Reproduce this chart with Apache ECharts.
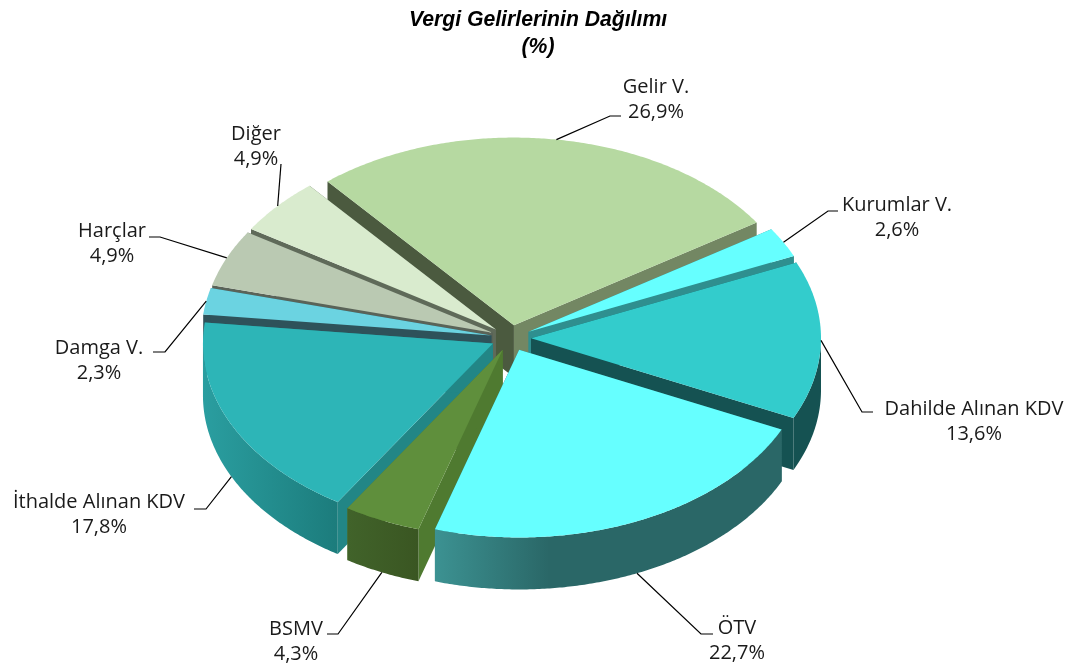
<!DOCTYPE html>
<html>
<head>
<meta charset="utf-8">
<style>
  html, body { margin: 0; padding: 0; background: #fff; }
  #chart { width: 1076px; height: 666px; }
</style>
<script src="https://cdn.jsdelivr.net/npm/echarts@6/dist/echarts.min.js"></script>
</head>
<body>
<div id="chart"></div>
<script>
// data
const categories = ['Gelir V.', 'Kurumlar V.', 'Dahilde Alınan KDV', 'ÖTV', 'BSMV', 'İthalde Alınan KDV', 'Damga V.', 'Harçlar', 'Diğer']
const shares = [26.9, 2.6, 13.6, 22.7, 4.3, 17.8, 2.3, 4.9, 4.9]

// colours per slice
const topColors = ['#b6d9a1', '#66ffff', '#33cccc', '#66ffff', '#5f8f3c', '#2db5b7', '#6bd3e1', '#bac9b2', '#d9ebce']
const startWallColors = ['#4b5a3f', '#2f8f8f', '#155252', '#2a6767', '#4f7a30', '#228686', '#2e525a', '#5a6358', '#5f6a59']
const endWallColors = ['#738763', '#2f8f8f', '#155252', '#2a6767', '#4f7a30', '#228686', '#2e525a', '#5a6358', '#5f6a59']
const rimStops = [
  [[0, '#738763'], [1, '#738763']],
  [[0, '#2f8f8f'], [1, '#2f8f8f']],
  [[0, '#155252'], [1, '#155252']],
  [[0, '#3c9292'], [0.33, '#2a6767'], [1, '#2a6767']],
  [[0, '#41632a'], [1, '#3a5622']],
  [[0, '#2a9ea0'], [1, '#1c7c7c']],
  [[0, '#2e525a'], [1, '#2e525a']],
  [[0, '#5a6358'], [1, '#5a6358']],
  [[0, '#5f6a59'], [1, '#5f6a59']]
]

// label layout: leader elbow, leader end, text centre
const labelLayout = [
  { elbow: [610, 116], end: [621, 116], text: [656, 100] },
  { elbow: [828, 211], end: [838, 211], text: [897, 218] },
  { elbow: [862, 412], end: [873, 412], text: [974, 422] },
  { elbow: [701, 634], end: [713, 634], text: [737, 641] },
  { elbow: [338, 634], end: [327, 634], text: [296, 642] },
  { elbow: [206, 509], end: [194, 509], text: [99, 515] },
  { elbow: [165, 352], end: [153, 352], text: [99, 361] },
  { elbow: [160, 237], end: [149, 237], text: [112, 244] },
  { elbow: [281, 164], end: [281, 164], text: [256, 147] }
]

// pie geometry
const cx = 511
const cy = 338
const rx = 290
const tilt = 0.647
const depth = 52
const explode = 20
const startAngle = -40
const labelFont = 'Open Sans'

const total = shares.reduce((a, b) => a + b, 0)
let acc = 0
const slices = shares.map((v, i) => {
  const from = startAngle + acc / total * 360
  acc += v
  const to = startAngle + acc / total * 360
  return { index: i, from, to, mid: (from + to) / 2 }
})

function project(deg, r, ox, oy) {
  const a = deg * Math.PI / 180
  return [ox + r * Math.sin(a), oy - r * tilt * Math.cos(a)]
}

function arcPoints(from, to, r, ox, oy) {
  const pts = []
  const n = Math.max(2, Math.ceil((to - from) * 2))
  for (let i = 0; i <= n; i++) pts.push(project(from + (to - from) * i / n, r, ox, oy))
  return pts
}

// back slices first, front slices on top
const drawOrder = slices.slice().sort((a, b) => Math.cos(b.mid * Math.PI / 180) - Math.cos(a.mid * Math.PI / 180))

function renderSlice(params) {
  const s = drawOrder[params.dataIndex]
  const i = s.index
  const [ox, oy] = project(s.mid, explode, cx, cy)
  const down = p => [p[0], p[1] + depth]
  const apex = [ox, oy]
  const a = project(s.from, rx, ox, oy)
  const b = project(s.to, rx, ox, oy)
  const children = [
    { type: 'polygon', shape: { points: [apex, a, down(a), down(apex)] }, style: { fill: startWallColors[i] } },
    { type: 'polygon', shape: { points: [apex, b, down(b), down(apex)] }, style: { fill: endWallColors[i] } }
  ]
  // outer wall only where the rim faces the viewer
  for (const shift of [0, 360]) {
    const lo = Math.max(s.from, 90 + shift)
    const hi = Math.min(s.to, 270 + shift)
    if (lo < hi) {
      const rim = arcPoints(lo, hi, rx, ox, oy)
      children.push({
        type: 'polygon',
        shape: { points: rim.concat(rim.map(down).reverse()) },
        style: {
          fill: {
            type: 'linear', x: 0, y: 0, x2: 1, y2: 0,
            colorStops: rimStops[i].map(c => ({ offset: c[0], color: c[1] }))
          }
        }
      })
    }
  }
  children.push({
    type: 'polygon',
    shape: { points: [apex].concat(arcPoints(s.from, s.to, rx, ox, oy)) },
    style: { fill: topColors[i] }
  })
  return { type: 'group', children }
}

function renderLabel(params) {
  const s = slices[params.dataIndex]
  const layout = labelLayout[params.dataIndex]
  const [ox, oy] = project(s.mid, explode, cx, cy)
  const p = project(s.mid, rx, ox, oy)
  const c = Math.cos(s.mid * Math.PI / 180)
  // leaders of front slices start under the wall
  if (c < -0.05) p[1] += depth
  return {
    type: 'group',
    children: [
      {
        type: 'polyline',
        shape: { points: [p, layout.elbow, layout.end] },
        style: { fill: null, stroke: '#000', lineWidth: 1.2 }
      },
      {
        type: 'text',
        style: {
          text: categories[params.dataIndex] + '\n' + shares[params.dataIndex].toFixed(1).replace('.', ',') + '%',
          x: layout.text[0],
          y: layout.text[1],
          align: 'center',
          verticalAlign: 'middle',
          fontFamily: labelFont,
          fontSize: 20,
          lineHeight: 25,
          fill: '#1a1a1a'
        }
      }
    ]
  }
}

const chart = echarts.init(document.getElementById('chart'))
chart.setOption({
  animation: false,
  backgroundColor: '#fff',
  title: {
    text: 'Vergi Gelirlerinin Dağılımı\n(%)',
    left: 533,
    top: 2,
    textAlign: 'center',
    textStyle: {
      fontFamily: 'Liberation Sans',
      fontSize: 21.2,
      fontWeight: 'bold',
      fontStyle: 'italic',
      lineHeight: 27,
      color: '#000'
    }
  },
  tooltip: {
    trigger: 'item',
    formatter: p => p.name + ' ： ' + p.value + '%'
  },
  series: [
    {
      type: 'custom',
      coordinateSystem: 'none',
      renderItem: renderSlice,
      data: drawOrder.map(s => ({ name: categories[s.index], value: shares[s.index] }))
    },
    {
      type: 'custom',
      coordinateSystem: 'none',
      silent: true,
      z: 5,
      renderItem: renderLabel,
      data: categories.map((c, i) => ({ name: c, value: shares[i] }))
    }
  ]
})
</script>
</body>
</html>
